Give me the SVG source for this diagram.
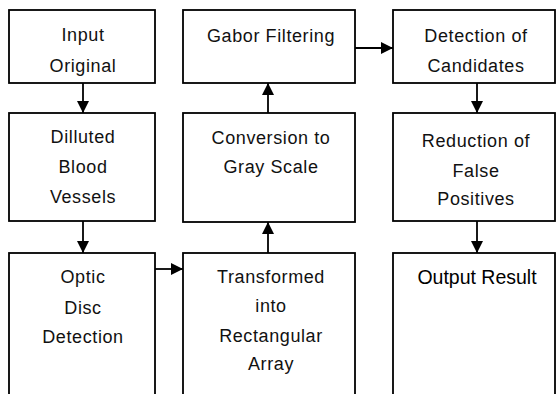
<svg xmlns="http://www.w3.org/2000/svg" width="558" height="394" viewBox="0 0 558 394">
  <style>
    .box { fill: #ffffff; stroke: #000000; stroke-width: 1.8; }
    .lbl { font-family: "Liberation Sans", Arial, sans-serif; font-size: 18px; letter-spacing: 0.6px; fill: #111111; text-anchor: middle; }
    .out { font-family: "Liberation Sans", Arial, sans-serif; font-size: 19.5px; fill: #000000; text-anchor: middle; }
    .wire { stroke: #000000; stroke-width: 1.8; fill: none; marker-end: url(#head); }
  </style>
  <defs>
    <marker id="head" viewBox="0 0 10 10" refX="10" refY="5" markerUnits="userSpaceOnUse" markerWidth="12" markerHeight="12" orient="auto">
      <path d="M0,0 L10,5 L0,10 Z" fill="#000000"/>
    </marker>
  </defs>
  <rect width="558" height="394" fill="#ffffff"/>

  <!-- left column -->
  <g id="input-original">
    <rect class="box" x="9" y="10" width="146" height="73"/>
    <text class="lbl" x="83" y="41">Input</text>
    <text class="lbl" x="83" y="72">Original</text>
  </g>
  <g id="dilluted-vessels">
    <rect class="box" x="9" y="113" width="146" height="108"/>
    <text class="lbl" x="83" y="143">Dilluted</text>
    <text class="lbl" x="83" y="173">Blood</text>
    <text class="lbl" x="83" y="203">Vessels</text>
  </g>
  <g id="optic-disc">
    <rect class="box" x="9" y="253" width="146" height="150"/>
    <text class="lbl" x="83" y="283">Optic</text>
    <text class="lbl" x="83" y="314">Disc</text>
    <text class="lbl" x="83" y="343">Detection</text>
  </g>

  <!-- middle column -->
  <g id="gabor-filtering">
    <rect class="box" x="183" y="10" width="172" height="73"/>
    <text class="lbl" x="271" y="42">Gabor Filtering</text>
  </g>
  <g id="gray-scale">
    <rect class="box" x="183" y="113" width="172" height="109"/>
    <text class="lbl" x="271" y="144">Conversion to</text>
    <text class="lbl" x="271" y="173">Gray Scale</text>
  </g>
  <g id="rectangular-array">
    <rect class="box" x="183" y="253" width="172" height="150"/>
    <text class="lbl" x="271" y="283">Transformed</text>
    <text class="lbl" x="271" y="312">into</text>
    <text class="lbl" x="271" y="342">Rectangular</text>
    <text class="lbl" x="271" y="370">Array</text>
  </g>

  <!-- right column -->
  <g id="candidates">
    <rect class="box" x="393" y="10" width="162" height="73"/>
    <text class="lbl" x="476" y="42">Detection of</text>
    <text class="lbl" x="476" y="72">Candidates</text>
  </g>
  <g id="false-positives">
    <rect class="box" x="393" y="113" width="162" height="108"/>
    <text class="lbl" x="476" y="147">Reduction of</text>
    <text class="lbl" x="476" y="177">False</text>
    <text class="lbl" x="476" y="205">Positives</text>
  </g>
  <g id="output-result">
    <rect class="box" x="393" y="253" width="162" height="150"/>
    <text class="out" x="477" y="284">Output Result</text>
  </g>

  <!-- connectors -->
  <g id="connectors">
    <line class="wire" x1="83" y1="83" x2="83" y2="113"/>
    <line class="wire" x1="83" y1="221" x2="83" y2="253"/>
    <line class="wire" x1="155" y1="269" x2="183" y2="269"/>
    <line class="wire" x1="268" y1="253" x2="268" y2="222"/>
    <line class="wire" x1="268" y1="113" x2="268" y2="83"/>
    <line class="wire" x1="355" y1="48" x2="393" y2="48"/>
    <line class="wire" x1="477" y1="83" x2="477" y2="113"/>
    <line class="wire" x1="477" y1="221" x2="477" y2="253"/>
  </g>
</svg>
